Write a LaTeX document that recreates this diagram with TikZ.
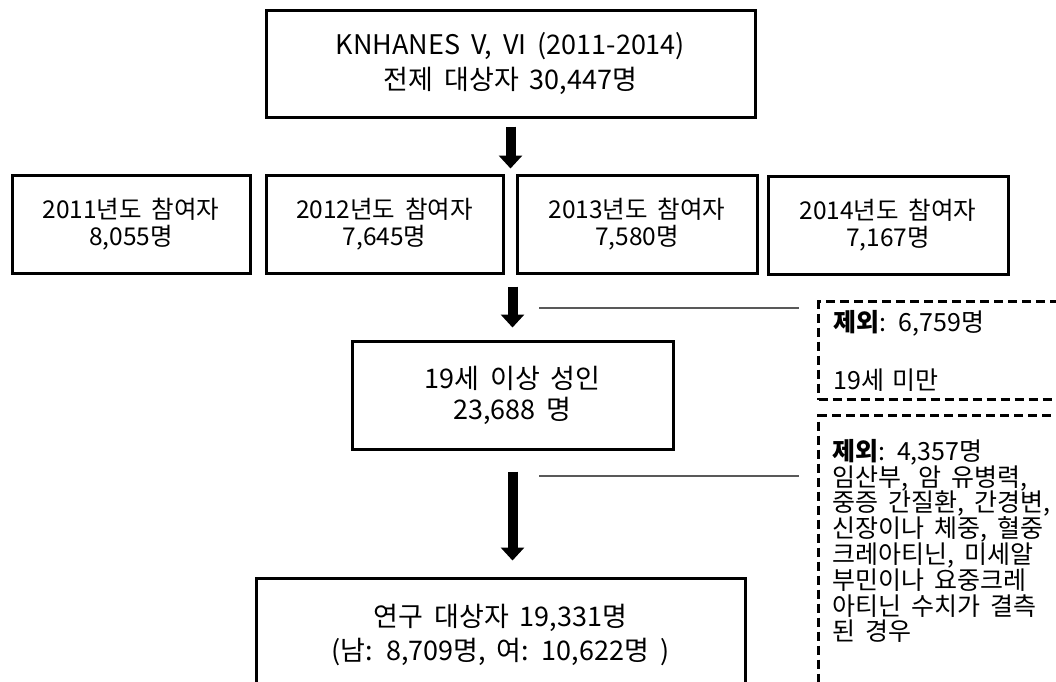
\documentclass[tikz,border=0pt]{standalone}
\usepackage{fontspec}
\setmainfont{Noto Sans CJK KR}[WordSpace=1.8]
\usetikzlibrary{arrows.meta,positioning}

\tikzset{
  boxnode/.style={draw, line width=3pt, align=center, inner sep=0pt},
  exclbox/.style={draw, dash pattern=on 9pt off 5pt, line width=3pt, anchor=north west, inner sep=0pt},
  excltext/.style={align=left, anchor=north west, inner sep=0pt},
  fatarrow/.style={line width=10pt, -{Triangle[width=23pt,length=13pt]}},
  linkline/.style={draw=black!65, line width=1.5pt},
}

\begin{document}
\begin{tikzpicture}[x=1pt,y=-1pt,every node/.style={font=\fontsize{27}{33}\selectfont}]
                \useasboundingbox (0,0) rectangle (1056,681);
                \clip (0,0) rectangle (1056,681);
                % source survey
                \node[boxnode, minimum width=489pt, minimum height=107pt, font=\fontsize{27}{35}\selectfont] (top) at (510.5,63.5) {KNHANES V, VI (2011-2014)\\전제 대상자 30,447명};
                % participants per year
                \node[boxnode, minimum width=238pt, minimum height=98pt, font=\fontsize{24.5}{27}\selectfont] (y2011) at (131,224) {2011년도 참여자\\8,055명};
                \node[boxnode, minimum width=237pt, minimum height=98pt, font=\fontsize{24.5}{27}\selectfont] (y2012) at (384.5,224) {2012년도 참여자\\7,645명};
                \node[boxnode, minimum width=240pt, minimum height=98pt, font=\fontsize{24.5}{27}\selectfont] (y2013) at (637,224) {2013년도 참여자\\7,580명};
                \node[boxnode, minimum width=240pt, minimum height=98pt, font=\fontsize{24.5}{27}\selectfont] (y2014) at (888,225) {2014년도 참여자\\7,167명};
                % adults and final sample
                \node[boxnode, minimum width=321pt, minimum height=108pt, font=\fontsize{27}{31}\selectfont] (adult) at (512.5,395) {19세 이상 성인\\23,688 명};
                \node[boxnode, minimum width=489pt, minimum height=114pt, font=\fontsize{27}{34}\selectfont] (study) at (500.5,635) {연구 대상자 19,331명\\(남: 8,709명, 여: 10,622명 )};
                % exclusions
                \node[exclbox, minimum width=274pt, minimum height=98pt, align=left, text width=244pt, inner xsep=15pt, font=\fontsize{25}{26}\selectfont] (excl1) at (817,300) {\textbf{제외}: 6,759명\\[32pt]19세 미만};
                \node[exclbox, minimum width=274pt, minimum height=300pt] (excl2) at (817,414) {};
                \node[excltext, font=\fontsize{25}{25.8}\selectfont] (excl2txt) at (832,439) {\textbf{제외}: 4,357명\\임산부, 암 유병력,\\중증 간질환, 간경변,\\신장이나 체중, 혈중\\크레아티닌, 미세알\\부민이나 요중크레\\아티닌 수치가 결측\\된 경우};
                % arrows
                \draw[fatarrow, shorten <=8pt, shorten >=5pt] (top.south) -- (top.south |- y2013.north);
                \draw[fatarrow, shorten <=12pt, shorten >=12pt] (adult.north |- y2013.south) -- (adult.north);
                \draw[fatarrow, shorten <=21pt, shorten >=16pt] (adult.south) -- (adult.south |- study.north);
                % side links
                \coordinate (t1) at (539,308);
                \coordinate (t2) at (539,476);
                \draw[linkline, shorten >=18pt] (t1) -- (t1 -| excl1.west);
                \draw[linkline, shorten >=18pt] (t2) -- (t2 -| excl2.west);
            \end{tikzpicture}
\end{document}
